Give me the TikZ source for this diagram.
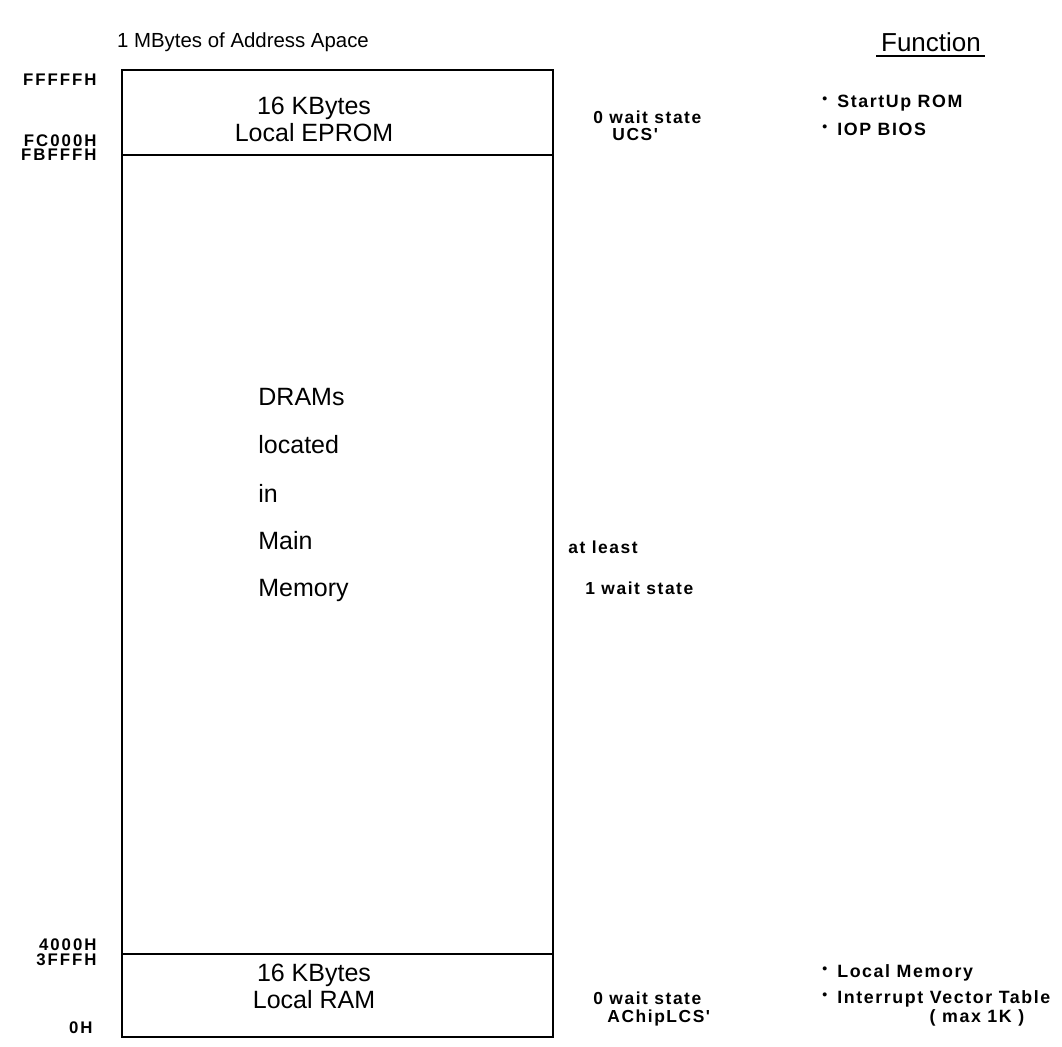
\documentclass[tikz,border=0pt]{standalone}
\usepackage{fontspec}
\setmainfont{Liberation Sans}
\newfontfamily\addrfont[LetterSpace=12]{Liberation Sans}
\newfontfamily\notefont[LetterSpace=9]{Liberation Sans}
\begin{document}
\begin{tikzpicture}[x=0.5pt,y=-0.5pt,
  boxline/.style={line width=1.2pt},
  addr/.style={font=\addrfont\bfseries\fontsize{8.4}{10}\selectfont, anchor=east, inner sep=0pt},
  note/.style={font=\notefont\bfseries\fontsize{8.7}{10}\selectfont, anchor=west, inner sep=0pt},
  big/.style={font=\fontsize{12.5}{15}\selectfont, inner sep=0pt},
  dram/.style={font=\fontsize{12.5}{15}\selectfont, anchor=west, inner sep=0pt},
  bul/.style={font=\notefont\bfseries\fontsize{8.9}{10}\selectfont, anchor=west, inner sep=0pt}]
\useasboundingbox (0,0) rectangle (1062,1047);
% frame
\coordinate (tl) at (122,70);
\coordinate (br) at (553,1037);
\draw[boxline] (tl) rectangle (br);
\coordinate (e1) at (122,155);
\coordinate (e2) at (553,155);
\coordinate (r1) at (122,954);
\coordinate (r2) at (553,954);
\draw[boxline] (e1) -- (e2);
\draw[boxline] (r1) -- (r2);
% titles
\node[font=\fontsize{10.2}{12}\selectfont, inner sep=0pt] (title) at (243,42) {1 MBytes of Address Apace};
\node[font=\fontsize{13}{15}\selectfont, inner sep=0pt] (func) at (931,42) {Function};
\coordinate (u1) at (876,56);
\coordinate (u2) at (985,56);
\draw[line width=1pt] (u1) -- (u2);
% addresses
\node[addr] (a1) at (97,80) {FFFFFH};
\node[addr] (a2) at (97,141) {FC000H};
\node[addr] (a3) at (97,155) {FBFFFH};
\node[addr] (a4) at (97,945) {4000H};
\node[addr] (a5) at (97,960) {3FFFH};
\node[addr] (a6) at (93,1028) {0H};
% box texts
\node[big] (ep1) at (314,108) {16 KBytes};
\node[big] (ep2) at (314,133) {Local EPROM};
\node[big] (ra1) at (314,975) {16 KBytes};
\node[big] (ra2) at (314,1000) {Local RAM};
\node[dram] (d1) at (258,397) {DRAMs};
\node[dram] (d2) at (258,445) {located};
\node[dram] (d3) at (258,493) {in};
\node[dram] (d4) at (258,541) {Main};
\node[dram] (d5) at (258,590) {Memory};
% wait states
\node[note] (w1) at (593,117) {0 wait state};
\node[note] (w2) at (612,135) {UCS'};
\node[note] (w3) at (568,547) {at least};
\node[note] (w4) at (585,588) {1 wait state};
\node[note] (w5) at (593,998) {0 wait state};
\node[note] (w6) at (607,1018) {AChipLCS'};
% functions
\node[bul] (f1) at (822,103) {\raisebox{2pt}{\scriptsize\textbullet}\hspace{5pt}StartUp ROM};
\node[bul] (f2) at (822,129) {\raisebox{2pt}{\scriptsize\textbullet}\hspace{5pt}IOP BIOS};
\node[bul] (f3) at (822,973) {\raisebox{2pt}{\scriptsize\textbullet}\hspace{5pt}Local Memory};
\node[bul] (f4) at (822,999) {\raisebox{2pt}{\scriptsize\textbullet}\hspace{5pt}Interrupt Vector Table};
\node[bul, anchor=center] (f5) at (977,1018) {( max 1K )};
\end{tikzpicture}
\end{document}
